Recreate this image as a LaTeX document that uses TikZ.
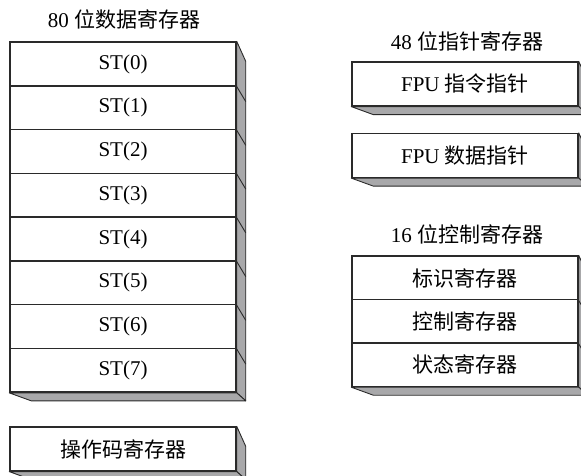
\documentclass[tikz,border=0pt]{standalone}
\usepackage{fontspec}
\setmainfont{Liberation Serif}
\newfontfamily\cjk{Noto Sans CJK SC}
\usetikzlibrary{calc}
\definecolor{sidegray}{HTML}{A8A8AA}
\definecolor{edgeclr}{HTML}{2A2A2A}
\tikzset{
  reg/.style={draw=edgeclr, line width=1.5pt, fill=white, minimum width=226pt,
    minimum height=43.7pt, inner sep=0pt, font=\fontsize{21}{24}\selectfont},
  side/.style={draw=edgeclr, line width=0.9pt, fill=sidegray, line join=round},
  title/.style={font=\fontsize{21}{24}\selectfont, inner sep=0pt},
}
\newcommand{\boxdepth}[2]{%
  \path[side] (#1.north east) -- ++(9,20) -- ($(#2.south east)+(9,8)$) -- (#2.south east) -- cycle;
  \path[side] (#2.south west) -- ++(22,8) -- ($(#2.south east)+(9,8)$) -- (#2.south east) -- cycle;
}
\begin{document}
\begin{tikzpicture}[x=1pt,y=-1pt]
\useasboundingbox (0,0) rectangle (581,476);
\clip (0,0) rectangle (581,476);
% left stack
\node[title] (t80) at (124,19) {80 {\cjk 位数据寄存器}};
\foreach \i in {0,...,7}{
  \node[reg] (st\i) at (123,{64+43.75*\i}) {ST(\i)};
}
\boxdepth{st0}{st7}
\foreach \i in {0,...,6}{
  \draw[edgeclr, line width=0.9pt] (st\i.south east) -- ++(9,15);
}
\foreach \i in {0,...,7}{
  \node[reg] at (st\i) {ST(\i)};
}
% opcode
\node[reg] (op) at (123,449) {\cjk 操作码寄存器};
\boxdepth{op}{op}
\node[reg] at (op) {\cjk 操作码寄存器};
% pointer registers
\node[title] (t48) at (467,41) {48 {\cjk 位指针寄存器}};
\node[reg] (fi) at (465,84) {FPU {\cjk 指令指针}};
\boxdepth{fi}{fi}
\node[reg] at (fi) {FPU {\cjk 指令指针}};
\node[reg] (fd) at (465,155.5) {FPU {\cjk 数据指针}};
\boxdepth{fd}{fd}
\node[reg] at (fd) {FPU {\cjk 数据指针}};
% control registers
\node[title] (t16) at (467,234) {16 {\cjk 位控制寄存器}};
\node[reg] (c0) at (465,278) {\cjk 标识寄存器};
\node[reg] (c1) at (465,321.3) {\cjk 控制寄存器};
\node[reg] (c2) at (465,364.6) {\cjk 状态寄存器};
\boxdepth{c0}{c2}
\draw[edgeclr, line width=0.9pt] (c0.south east) -- ++(9,15);
\draw[edgeclr, line width=0.9pt] (c1.south east) -- ++(9,15);
\node[reg] at (c0) {\cjk 标识寄存器};
\node[reg] at (c1) {\cjk 控制寄存器};
\node[reg] at (c2) {\cjk 状态寄存器};
\end{tikzpicture}
\end{document}
